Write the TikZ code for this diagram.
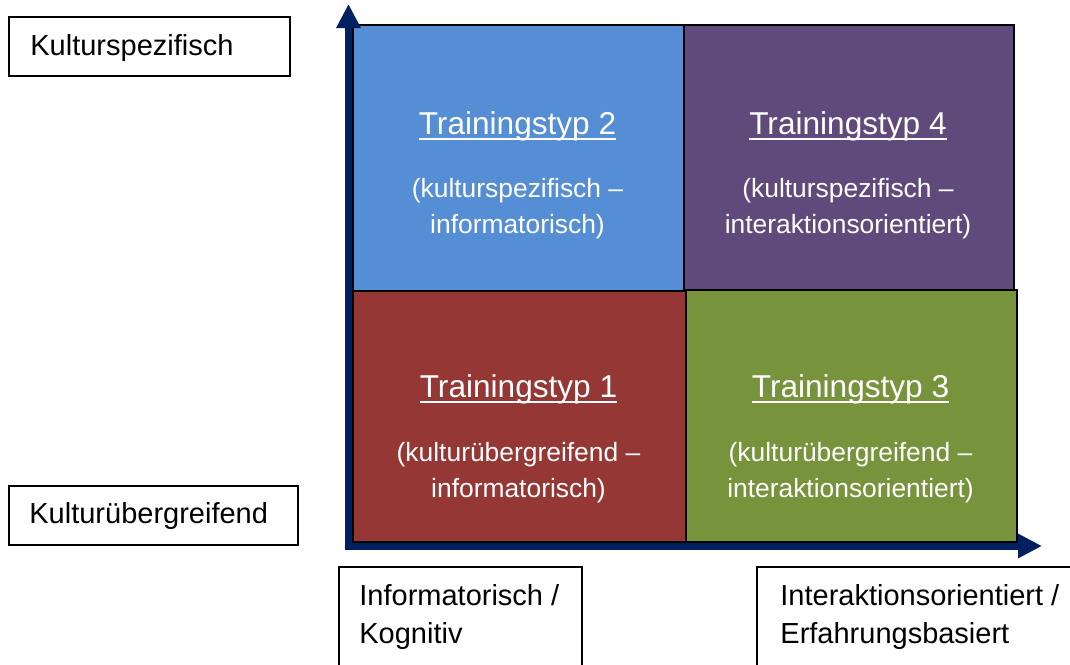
\documentclass[tikz,border=0pt]{standalone}
\usepackage{fontspec}
\setmainfont{Liberation Sans}
\usetikzlibrary{arrows.meta,positioning}

\definecolor{typblue}{RGB}{85,142,213}
\definecolor{typpurple}{RGB}{96,74,123}
\definecolor{typred}{RGB}{149,55,53}
\definecolor{typgreen}{RGB}{119,147,60}
\definecolor{axisnavy}{RGB}{0,32,96}

% underline that cuts through the descenders
\newcommand{\titleline}[1]{{\setbox0\hbox{#1}\rlap{\rule[-3pt]{\wd0}{1pt}}\box0}}

\tikzset{
  quad/.style={draw=black, line width=1pt, rectangle, anchor=north west, inner sep=0pt},
  typtitle/.style={text=white, font=\fontsize{15.8pt}{19pt}\selectfont, anchor=base, inner sep=0pt},
  typsub/.style={text=white, font=\fontsize{13.2pt}{18pt}\selectfont, align=center, anchor=base, inner sep=0pt},
  labelbox/.style={draw=black, line width=1pt, rectangle, anchor=north west, inner sep=0pt},
  labeltext/.style={font=\fontsize{14.5pt}{19pt}\selectfont, align=left, anchor=base west, inner sep=0pt},
  axis/.style={draw=axisnavy, line width=3.5pt, line cap=rect, -{Triangle[length=12pt,width=11.5pt]}},
}

\begin{document}
\begin{tikzpicture}[x=0.5pt,y=-0.5pt]
    \useasboundingbox (0,0) rectangle (1070,664);
    \clip (0,0) rectangle (1070,664);

    % Quadrants
    \node[quad, fill=typblue, minimum width=165.5pt, minimum height=133pt] (q2) at (352,24) {};
    \node[quad, fill=typpurple, minimum width=165pt, minimum height=132.5pt] (q4) at (683,24) {};
    \node[quad, fill=typred, minimum width=166.5pt, minimum height=125.5pt] (q1) at (352,290) {};
    \node[quad, fill=typgreen, minimum width=165.5pt, minimum height=126pt] (q3) at (685,289) {};

    % Quadrant texts (sub texts sit on their last line)
    \node[typtitle] (t2) at (517.5,134) {\titleline{Trainingstyp 2}};
    \node[typsub] (s2) at (517.5,233) {(kulturspezifisch –\\informatorisch)};
    \node[typtitle] (t4) at (848,134) {\titleline{Trainingstyp 4}};
    \node[typsub] (s4) at (848,233) {(kulturspezifisch –\\interaktionsorientiert)};
    \node[typtitle] (t1) at (518.5,397) {\titleline{Trainingstyp 1}};
    \node[typsub] (s1) at (518.5,497) {(kulturübergreifend –\\informatorisch)};
    \node[typtitle] (t3) at (850.5,397) {\titleline{Trainingstyp 3}};
    \node[typsub] (s3) at (850.5,497) {(kulturübergreifend –\\interaktionsorientiert)};

    % Axis labels
    \node[labelbox, minimum width=140.5pt, minimum height=29.5pt] (kspez) at (7.5,16) {};
    \node[labeltext] (kspeztxt) at (30,55) {Kulturspezifisch};
    \node[labelbox, minimum width=144.5pt, minimum height=29.5pt] (kueber) at (8,485) {};
    \node[labeltext] (kuebertxt) at (29,523) {Kulturübergreifend};
    \node[labelbox, minimum width=121.5pt, minimum height=67pt] (kogn) at (338,566) {};
    \node[labeltext] (kogntxt) at (359,643) {Informatorisch /\\Kognitiv};
    \node[labelbox, minimum width=172pt, minimum height=67pt] (erfahr) at (756,566) {};
    \node[labeltext] (erfahrtxt) at (780,643) {Interaktionsorientiert /\\Erfahrungsbasiert};

    % Axes
    \coordinate (origin) at (348.5,546);
    \coordinate (ytip) at (348.5,4);
    \coordinate (xtip) at (1042,546);
    \draw[axis] (origin) -- (ytip);
    \draw[axis] (origin) -- (xtip);

\end{tikzpicture}
\end{document}
